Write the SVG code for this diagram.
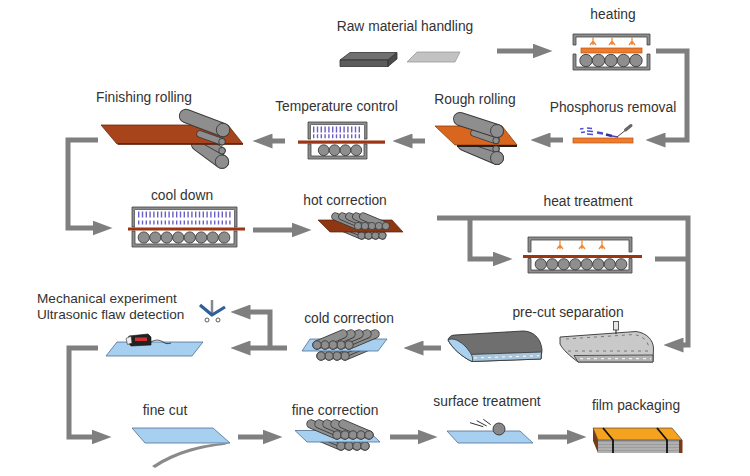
<svg xmlns="http://www.w3.org/2000/svg" xmlns:xlink="http://www.w3.org/1999/xlink" width="750" height="476" viewBox="0 0 750 476">
<style>
.t{font-family:"Liberation Sans",Arial,sans-serif;font-size:13.8px;fill:#333;text-anchor:middle}
.ts{font-family:"Liberation Sans",Arial,sans-serif;font-size:13.6px;fill:#333}
.brk{fill:#8c8c8c;stroke:#454545;stroke-width:0.8}
.rol{fill:#8e8e8e;stroke:#3a3a3a;stroke-width:0.9}
.orp{fill:#ef7b2c;stroke:#b5541a;stroke-width:0.7}
.brp{fill:#9b3514}
.blp{fill:#a6cff0;stroke:#506f8f;stroke-width:0.8}
.ro{stroke:#3a3a3a;stroke-width:9.3;stroke-linecap:round}
.ri{stroke:#8e8e8e;stroke-width:7.5;stroke-linecap:round}
.noz{stroke:#f08a3a;stroke-width:1.3;fill:none}
.comb{stroke:#6a5fc6;stroke-dasharray:1.4 2.4}
.cn{fill:none;stroke:#7f7f7f;stroke-width:5;stroke-linejoin:miter}
</style>
<defs>
<marker id="ah" markerWidth="4" markerHeight="3" refX="0.1" refY="1.5" orient="auto" markerUnits="strokeWidth">
<path d="M0,0 L4,1.5 L0,3 Z" fill="#7f7f7f"/>
</marker>
<g id="rup">
<line class="ro" x1="-26" y1="-11" x2="0" y2="0"/><line class="ri" x1="-26" y1="-11" x2="0" y2="0"/>
<line class="ro" x1="-18" y1="-11" x2="8" y2="0"/><line class="ri" x1="-18" y1="-11" x2="8" y2="0"/>
<line class="ro" x1="-10" y1="-11" x2="16" y2="0"/><line class="ri" x1="-10" y1="-11" x2="16" y2="0"/>
<line class="ro" x1="-2" y1="-11" x2="24" y2="0"/><line class="ri" x1="-2" y1="-11" x2="24" y2="0"/>
<line class="ro" x1="6" y1="-11" x2="32" y2="0"/><line class="ri" x1="6" y1="-11" x2="32" y2="0"/>
<circle class="rol" cx="0" cy="0" r="4.2"/><circle class="rol" cx="8" cy="0" r="4.2"/><circle class="rol" cx="16" cy="0" r="4.2"/><circle class="rol" cx="24" cy="0" r="4.2"/><circle class="rol" cx="32" cy="0" r="4.2"/>
</g>
<g id="rlow">
<line class="ro" x1="-22" y1="0" x2="4" y2="11"/><line class="ri" x1="-22" y1="0" x2="4" y2="11"/>
<line class="ro" x1="-14" y1="0" x2="12" y2="11"/><line class="ri" x1="-14" y1="0" x2="12" y2="11"/>
<line class="ro" x1="-6" y1="0" x2="20" y2="11"/><line class="ri" x1="-6" y1="0" x2="20" y2="11"/>
<line class="ro" x1="2" y1="0" x2="28" y2="11"/><line class="ri" x1="2" y1="0" x2="28" y2="11"/>
<circle class="rol" cx="4" cy="11" r="4.2"/><circle class="rol" cx="12" cy="11" r="4.2"/><circle class="rol" cx="20" cy="11" r="4.2"/><circle class="rol" cx="28" cy="11" r="4.2"/>
</g>
</defs>
<rect width="750" height="476" fill="#fff"/>

<g id="connectors" marker-end="url(#ah)">
<path class="cn" d="M497,51 H533"/>
<path class="cn" d="M656,51 H687 V140 H665"/>
<path class="cn" d="M563,140 H550"/>
<path class="cn" d="M425,141 H412"/>
<path class="cn" d="M285,141 H272"/>
<path class="cn" d="M98,140 H68 V228 H93"/>
<path class="cn" d="M253,230 H292"/>
<path class="cn" d="M437,218 H688 V345 H683"/>
<path class="cn" d="M470,218 V259 H493"/>
<path class="cn" d="M655,259 H688" marker-end="none"/>
<path class="cn" d="M441,348 H423"/>
<path class="cn" d="M287,348 H250"/>
<path class="cn" d="M270,348 V312 H250"/>
<path class="cn" d="M98,348 H69 V437 H92"/>
<path class="cn" d="M238,437 H263"/>
<path class="cn" d="M390,437 H418"/>
<path class="cn" d="M538,437 H567"/>
</g>

<g id="raw">
<polygon points="350,52.5 397,52.5 388,60 340,60" fill="#707070" stroke="#333" stroke-width="0.8"/>
<polygon points="340,60 388,60 388,66.5 340,66.5" fill="#5c5c5c" stroke="#333" stroke-width="0.8"/>
<polygon points="388,60 397,52.5 397,59 388,66.5" fill="#4a4a4a" stroke="#333" stroke-width="0.8"/>
<polygon points="417,52 460,52 455,62 407,62" fill="#c2c2c2" stroke="#9a9a9a" stroke-width="0.8"/>
<text class="t" x="405" y="31">Raw material handling</text>
</g>

<g id="heating">
<path class="brk" d="M573,45 V34 H650 V45 H647 V37 H576 V45 Z"/>
<path class="noz" d="M593,37 V45 M590,45 L593,41 L596,45 M612,37 V45 M609,45 L612,41 L615,45 M632,37 V45 M629,45 L632,41 L635,45"/>
<rect class="orp" x="581" y="48" width="61" height="5"/>
<path class="brk" d="M573,54 V70 H650 V54 H647 V67 H576 V54 Z"/>
<circle class="rol" cx="586" cy="60.5" r="6.2"/><circle class="rol" cx="598.5" cy="60.5" r="6.2"/><circle class="rol" cx="611" cy="60.5" r="6.2"/><circle class="rol" cx="623.5" cy="60.5" r="6.2"/><circle class="rol" cx="636" cy="60.5" r="6.2"/>
<text class="t" x="613" y="19">heating</text>
</g>

<g id="phosphorus">
<rect class="orp" x="573" y="138" width="60" height="5"/>
<g stroke="#4b4fd6" stroke-width="1.3">
<line x1="580" y1="129" x2="583.5" y2="128.5"/>
<line x1="581" y1="132.5" x2="585" y2="132"/>
<line x1="587" y1="128" x2="592" y2="128.5"/>
<line x1="587" y1="131" x2="593" y2="131.5"/>
<line x1="587" y1="134" x2="593" y2="134.5"/>
</g>
<line x1="597" y1="132.5" x2="603" y2="133.5" stroke="#4b4fd6" stroke-width="2.5"/>
<line x1="606" y1="134.5" x2="612" y2="136" stroke="#3030a0" stroke-width="2.5"/>
<line x1="612" y1="136" x2="618" y2="137" stroke="#6040a0" stroke-width="1.5"/>
<line x1="617" y1="137" x2="627" y2="129" stroke="#444" stroke-width="1"/>
<line x1="625.5" y1="130" x2="631" y2="125.5" stroke="#666" stroke-width="3" stroke-linecap="round"/>
<text class="t" x="613" y="112">Phosphorus removal</text>
</g>

<g id="rough-rolling">
<line class="ro" x1="464" y1="144" x2="497" y2="158" style="stroke-width:14"/>
<line class="ri" x1="464" y1="144" x2="497" y2="158" style="stroke-width:12.2"/>
<line class="ro" x1="472" y1="141" x2="496" y2="149" style="stroke-width:7.4"/>
<line class="ri" x1="472" y1="141" x2="496" y2="149" style="stroke-width:5.8"/>
<polygon points="435,126 502,126 517,145 455,145" fill="#d8661e" stroke="#8a3d0e" stroke-width="0.8"/>
<line x1="457" y1="146" x2="517" y2="146" stroke="#222" stroke-width="2"/>
<line class="ro" x1="474" y1="133" x2="496" y2="140.5" style="stroke-width:7.4"/>
<line class="ri" x1="474" y1="133" x2="496" y2="140.5" style="stroke-width:5.8"/>
<line class="ro" x1="460" y1="119" x2="497" y2="131" style="stroke-width:14"/>
<line class="ri" x1="460" y1="119" x2="497" y2="131" style="stroke-width:12.2"/>
<circle class="rol" cx="496" cy="149" r="3.2"/>
<circle class="rol" cx="497" cy="158" r="6.5"/>
<circle class="rol" cx="496" cy="140.5" r="3.2"/>
<circle class="rol" cx="497" cy="131" r="6.5"/>
<text class="t" x="475" y="104">Rough rolling</text>
</g>

<g id="temperature-control">
<path class="brk" d="M308,139 V122 H367 V139 H364 V125 H311 V139 Z"/>
<rect x="311" y="125" width="53" height="14" fill="#fff"/>
<line class="comb" x1="313" y1="129.5" x2="362" y2="129.5" stroke-width="6"/>
<line class="comb" x1="313" y1="136.3" x2="362" y2="136.3" stroke-width="4"/>
<rect class="brp" x="298" y="140.5" width="87" height="3.2"/>
<path class="brk" d="M308,144 V159 H367 V144 H364 V156 H311 V144 Z"/>
<circle class="rol" cx="323.7" cy="150.2" r="5.4"/><circle class="rol" cx="334.6" cy="150.2" r="5.4"/><circle class="rol" cx="345.4" cy="150.2" r="5.4"/><circle class="rol" cx="356.3" cy="150.2" r="5.4"/>
<text class="t" x="336.5" y="111">Temperature control</text>
</g>

<g id="finishing-rolling">
<line class="ro" x1="198" y1="144" x2="222" y2="161.7" style="stroke-width:14.3"/>
<line class="ri" x1="198" y1="144" x2="222" y2="161.7" style="stroke-width:12.5"/>
<line class="ro" x1="205" y1="141" x2="222" y2="150.7" style="stroke-width:7.4"/>
<line class="ri" x1="205" y1="141" x2="222" y2="150.7" style="stroke-width:5.8"/>
<polygon points="101,125 228,125 243,144 117,144" fill="#a8441c" stroke="#6a2a10" stroke-width="0.8"/>
<line x1="118" y1="144" x2="243" y2="144" stroke="#5a200a" stroke-width="1.6"/>
<line class="ro" x1="200" y1="134" x2="222" y2="141.7" style="stroke-width:7.4"/>
<line class="ri" x1="200" y1="134" x2="222" y2="141.7" style="stroke-width:5.8"/>
<line class="ro" x1="186" y1="116" x2="223" y2="130" style="stroke-width:14.3"/>
<line class="ri" x1="186" y1="116" x2="223" y2="130" style="stroke-width:12.5"/>
<circle class="rol" cx="222" cy="150.7" r="3.3"/>
<circle class="rol" cx="222" cy="161.7" r="6.7"/>
<circle class="rol" cx="222" cy="141.7" r="3.3"/>
<circle class="rol" cx="223" cy="130" r="6.7"/>
<text class="t" x="144" y="101.5">Finishing rolling</text>
</g>

<g id="cool-down">
<path class="brk" d="M132,227 V207 H237 V227 H234 V210 H135 V227 Z"/>
<rect x="135" y="210" width="99" height="17" fill="#fff"/>
<line class="comb" x1="138" y1="214.5" x2="231" y2="214.5" stroke-width="6"/>
<line class="comb" x1="138" y1="222.5" x2="231" y2="222.5" stroke-width="4"/>
<rect class="brp" x="128" y="227.5" width="117" height="3"/>
<path class="brk" d="M132,231 V247 H237 V231 H234 V244 H135 V231 Z"/>
<circle class="rol" cx="143.75" cy="237.5" r="5.6"/><circle class="rol" cx="155.25" cy="237.5" r="5.6"/><circle class="rol" cx="166.75" cy="237.5" r="5.6"/><circle class="rol" cx="178.25" cy="237.5" r="5.6"/><circle class="rol" cx="189.75" cy="237.5" r="5.6"/><circle class="rol" cx="201.25" cy="237.5" r="5.6"/><circle class="rol" cx="212.75" cy="237.5" r="5.6"/><circle class="rol" cx="224.25" cy="237.5" r="5.6"/>
<text class="t" x="182" y="200">cool down</text>
</g>

<g id="hot-correction">
<use xlink:href="#rlow" href="#rlow" transform="translate(358,226) scale(0.87)"/>
<polygon points="318,220 392,220 403,232 330,232" fill="#8f3712" stroke="#5a2008" stroke-width="0.7"/>
<use xlink:href="#rup" href="#rup" transform="translate(358,226) scale(0.87)"/>
<text class="t" x="345" y="205">hot correction</text>
</g>

<g id="heat-treatment">
<path class="brk" d="M528,252 V237 H632 V252 H629 V240 H531 V252 Z"/>
<path class="noz" d="M560,240 V249 M557,249 L560,245 L563,249 M582,240 V249 M579,249 L582,245 L585,249 M602,240 V249 M599,249 L602,245 L605,249"/>
<rect class="brp" x="523" y="255" width="119" height="3"/>
<path class="brk" d="M528,258.5 V273 H632 V258.5 H629 V270 H531 V258.5 Z"/>
<circle class="rol" cx="540.75" cy="264.3" r="5.6"/><circle class="rol" cx="552.25" cy="264.3" r="5.6"/><circle class="rol" cx="563.75" cy="264.3" r="5.6"/><circle class="rol" cx="575.25" cy="264.3" r="5.6"/><circle class="rol" cx="586.75" cy="264.3" r="5.6"/><circle class="rol" cx="598.25" cy="264.3" r="5.6"/><circle class="rol" cx="609.75" cy="264.3" r="5.6"/><circle class="rol" cx="621.25" cy="264.3" r="5.6"/>
<text class="t" x="588" y="206">heat treatment</text>
</g>

<g id="pre-cut-separation">
<path d="M455,335 L523,331 C533,331 541,338 542,350 L541,359 L472,361.5 C462,357 452,348 448,340 C449,337 451,335 455,335 Z" fill="#6f6f6f" stroke="#333" stroke-width="0.9"/>
<path d="M469,354.5 L541.5,352 L541,359 L472,361.5 Z" fill="#a9c6dc" stroke="#333" stroke-width="0.8"/>
<line x1="474" y1="358" x2="539" y2="355.7" stroke="#fff" stroke-width="1" stroke-dasharray="3 4"/>
<path d="M448,340 C453,337 460,341 466,347 C471,353 474,358 472,361.5 C462,357 452,348 448,340 Z" fill="#a9d2f0" stroke="#333" stroke-width="0.8"/>
<path d="M560,337 L636,331.5 C647,333 653,340 653.5,348 L653,362 L578,362 C570,356 563,350 560,344 Z" fill="#c9c9c9" stroke="#333" stroke-width="0.9"/>
<path d="M574,355.5 L653,355 L653,362 L578,362 Z" fill="#b3b3b3" stroke="#333" stroke-width="0.8"/>
<path d="M566,339 L634,334.5 C643,336 648,341 649,348" fill="none" stroke="#777" stroke-width="1" stroke-dasharray="3 4"/>
<path d="M568,351 L648,351" fill="none" stroke="#777" stroke-width="1" stroke-dasharray="3 4"/>
<line x1="580" y1="358.7" x2="651" y2="358.7" stroke="#fff" stroke-width="1" stroke-dasharray="3 4"/>
<rect x="613.5" y="321.5" width="5" height="8.5" fill="#e6e6e6" stroke="#333" stroke-width="0.8"/>
<line x1="616" y1="330" x2="616" y2="334" stroke="#333" stroke-width="1.2"/>
<text class="t" x="568" y="317">pre-cut separation</text>
</g>

<g id="cold-correction">
<use xlink:href="#rlow" href="#rlow" transform="translate(349,345) scale(-1,1)"/>
<polygon class="blp" points="310,339 387,339 378,351 302,351"/>
<use xlink:href="#rup" href="#rup" transform="translate(349,345) scale(-1,1)"/>
<text class="t" x="349" y="323">cold correction</text>
</g>

<g id="mechanical-experiment">
<line x1="212" y1="300" x2="212" y2="313" stroke="#888" stroke-width="2.5"/>
<path d="M200,305 L212,315 L225,307" fill="none" stroke="#2f5e9e" stroke-width="3.2" stroke-linejoin="round"/>
<circle cx="207" cy="320" r="2" fill="#fff" stroke="#333" stroke-width="0.8"/>
<circle cx="218" cy="320" r="2" fill="#fff" stroke="#333" stroke-width="0.8"/>
<text class="ts" x="37" y="303">Mechanical experiment</text>
<text class="ts" x="37" y="319">Ultrasonic flaw detection</text>
</g>

<g id="ultrasonic-flaw-detection">
<polygon class="blp" points="117,342 203,342 192,356 106,356"/>
<polygon points="129,336 148,334 151,337 151,345 131,346 127,341" fill="#222" stroke="#111" stroke-width="0.6"/>
<rect x="135" y="337.5" width="12" height="3.5" fill="#d03030"/>
<polygon points="126,338.5 131,336 132,343 127.5,344.5" fill="#eee" stroke="#333" stroke-width="0.6"/>
<path d="M151,342 C156,339 160,340 163,342 S168,344 171,343" fill="none" stroke="#222" stroke-width="0.8"/>
</g>

<g id="fine-cut">
<polygon class="blp" points="132,428 213,428 230,443 145,443"/>
<path d="M230,443 C205,443 175,450 152,466 L155,468 C176,454 203,447 224,445 Z" fill="#8a8a8a"/>
<text class="t" x="165" y="415">fine cut</text>
</g>

<g id="fine-correction">
<use xlink:href="#rlow" href="#rlow" transform="translate(337,435)"/>
<polygon class="blp" points="295,430.5 368,430.5 380,442 307,442"/>
<use xlink:href="#rup" href="#rup" transform="translate(337,435)"/>
<text class="t" x="335" y="415">fine correction</text>
</g>

<g id="surface-treatment">
<polygon class="blp" points="447,431 520,431 533,443 458,443"/>
<circle cx="499" cy="429" r="6" fill="#888" stroke="#333" stroke-width="0.9"/>
<g stroke="#333" stroke-width="1">
<line x1="470" y1="422.7" x2="483.3" y2="426.7"/>
<line x1="476.7" y1="420.7" x2="486.7" y2="426"/>
<line x1="483.3" y1="419.3" x2="490.7" y2="424.7"/>
</g>
<text class="t" x="487" y="406">surface treatment</text>
</g>

<g id="film-packaging">
<rect x="598" y="440" width="84" height="13" fill="#9c9c9c"/>
<g stroke="#cfcfcf" stroke-width="0.8">
<line x1="598" y1="443" x2="682" y2="443"/><line x1="598" y1="446" x2="682" y2="446"/><line x1="598" y1="449" x2="682" y2="449"/><line x1="598" y1="452" x2="682" y2="452"/>
</g>
<polygon points="593,428 672,428 682,440 598,440" fill="#f5a21f" stroke="#333" stroke-width="0.6"/>
<polygon points="593,428 598,440 598,453 593,441" fill="#7a3a18"/>
<rect x="679" y="440" width="3.5" height="13" fill="#7a3a18"/>
<polyline points="603,428 613,440 613,453" fill="none" stroke="#111" stroke-width="1.8"/>
<polyline points="657,428 667,440 667,453" fill="none" stroke="#111" stroke-width="1.8"/>
<text class="t" x="636" y="410">film packaging</text>
</g>
</svg>
